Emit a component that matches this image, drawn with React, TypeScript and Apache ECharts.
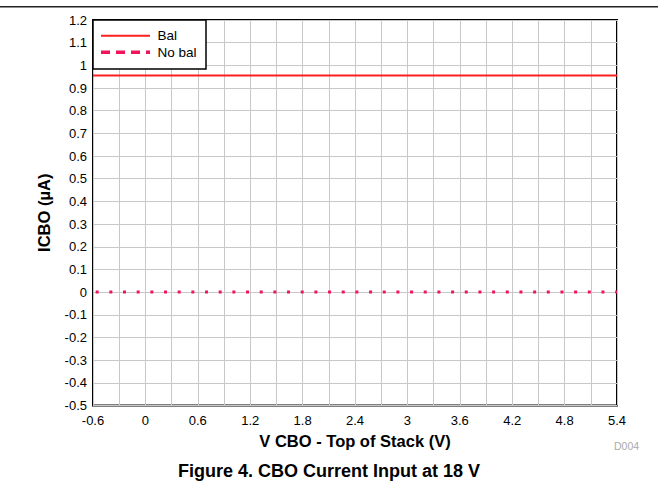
import React, { useEffect, useRef } from "react";
import * as echarts from "echarts";

const voltage = [-0.6, 0, 0.6, 1.2, 1.8, 2.4, 3, 3.6, 4.2, 4.8, 5.4];
const balCurrent = [0.955, 0.955, 0.955, 0.955, 0.955, 0.955, 0.955, 0.955, 0.955, 0.955, 0.955];
const noBalCurrent = [0, 0, 0, 0, 0, 0, 0, 0, 0, 0, 0];
const seriesNames = ["Bal", "No bal"];
const xAxisName = "V CBO - Top of Stack (V)";
const yAxisName = "ICBO (µA)";
const titleText = "Figure 4. CBO Current Input at 18 V";
const figureId = "D004";

const FONT = 'Arial, "Liberation Sans", Helvetica, sans-serif';
const BAL_COLOR = "#FF1E1E";
const NOBAL_COLOR = "#F0145A";

const fmt = (v: number) => String(Number(v.toFixed(1)));

export default function App() {
  const ref = useRef<HTMLDivElement>(null);
  useEffect(() => {
    if (!ref.current) return;
    const chart = echarts.init(ref.current, null, { renderer: "svg" });
    const option: any = {
      animation: false,
      backgroundColor: "#fff",
      textStyle: { fontFamily: FONT },
      title: {
        text: titleText,
        left: "center",
        top: 457,
        textStyle: { fontFamily: FONT, fontSize: 18, fontWeight: "bold", color: "#000" },
      },
      legend: { show: false },
      grid: {
        left: 93,
        right: 41,
        top: 20,
        bottom: 75.5,
        show: true,
        borderColor: "#000",
        borderWidth: 2,
        backgroundColor: "transparent",
      },
      xAxis: {
        type: "value",
        min: -0.6,
        max: 5.4,
        interval: 0.6,
        name: xAxisName,
        nameLocation: "middle",
        nameGap: 27,
        nameTextStyle: { fontFamily: FONT, fontSize: 16.5, fontWeight: "bold", color: "#000" },
        axisLine: { show: false },
        axisTick: { show: false },
        axisLabel: { fontFamily: FONT, fontSize: 13, color: "#000", margin: 8, formatter: fmt },
        splitLine: { show: true, lineStyle: { color: "#c8c8c8", width: 1 } },
        minorTick: { show: false, splitNumber: 2 },
        minorSplitLine: { show: true, lineStyle: { color: "#c8c8c8", width: 1 } },
      },
      yAxis: {
        type: "value",
        min: -0.5,
        max: 1.2,
        interval: 0.1,
        name: yAxisName,
        nameLocation: "middle",
        nameGap: 41,
        nameTextStyle: { fontFamily: FONT, fontSize: 16.5, fontWeight: "bold", color: "#000" },
        axisLine: { show: false },
        axisTick: { show: false },
        axisLabel: { fontFamily: FONT, fontSize: 13, color: "#000", margin: 6, formatter: fmt },
        splitLine: { show: true, lineStyle: { color: "#c8c8c8", width: 1 } },
      },
      series: [
        {
          name: seriesNames[0],
          type: "line",
          data: voltage.map((v, i) => [v, balCurrent[i]]),
          showSymbol: false,
          symbol: "none",
          lineStyle: { color: BAL_COLOR, width: 2 },
          z: 3,
        },
        {
          name: seriesNames[1],
          type: "line",
          data: voltage.map((v, i) => [v, noBalCurrent[i]]),
          showSymbol: false,
          symbol: "none",
          lineStyle: { color: NOBAL_COLOR, width: 3, type: [3, 10.67], dashOffset: 11, cap: "butt" },
          z: 3,
        },
      ],
      graphic: [
        {
          type: "line",
          shape: { x1: 0, y1: 6.7, x2: 658, y2: 6.7 },
          style: { stroke: "#222", lineWidth: 1.5 },
          silent: true,
        },
        {
          type: "rect",
          shape: { x: 93, y: 20, width: 113, height: 49 },
          style: { fill: "#fff", stroke: "#000", lineWidth: 1.5 },
          z: 10,
          silent: true,
        },
        {
          type: "line",
          shape: { x1: 101, y1: 35.7, x2: 150, y2: 35.7 },
          style: { stroke: BAL_COLOR, lineWidth: 2 },
          z: 11,
          silent: true,
        },
        {
          type: "line",
          shape: { x1: 101, y1: 52.3, x2: 150, y2: 52.3 },
          style: { stroke: NOBAL_COLOR, lineWidth: 3.5, lineDash: [9, 6] },
          z: 11,
          silent: true,
        },
        {
          type: "text",
          x: 157.5,
          y: 35.7,
          style: {
            text: seriesNames[0],
            fontFamily: FONT,
            fontSize: 13.5,
            fill: "#000",
            textVerticalAlign: "middle",
            verticalAlign: "middle",
          },
          z: 11,
          silent: true,
        },
        {
          type: "text",
          x: 157.5,
          y: 52.3,
          style: {
            text: seriesNames[1],
            fontFamily: FONT,
            fontSize: 13.5,
            fill: "#000",
            textVerticalAlign: "middle",
            verticalAlign: "middle",
          },
          z: 11,
          silent: true,
        },
        {
          type: "text",
          x: 614,
          y: 446,
          style: {
            text: figureId,
            fontFamily: FONT,
            fontSize: 10.5,
            fill: "#aaaaaa",
            verticalAlign: "middle",
          },
          silent: true,
        },
      ],
    };
    chart.setOption(option);
    return () => chart.dispose();
  }, []);
  return (
    <div
      ref={ref}
      style={{ position: "fixed", left: 0, top: 0, width: 658, height: 481, background: "#fff" }}
    />
  );
}
